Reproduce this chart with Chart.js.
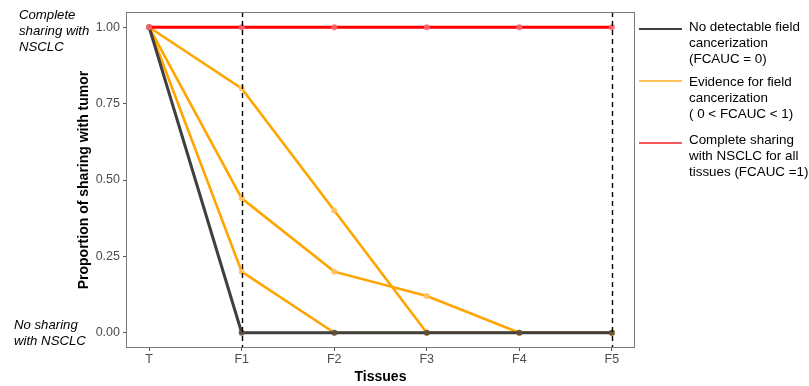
<!DOCTYPE html>
<html>
<head>
<meta charset="utf-8">
<script src="https://cdn.jsdelivr.net/npm/chart.js@4/dist/chart.umd.min.js"></script>
<style>
  html, body { margin: 0; padding: 0; background: #fff; }
  #wrap { position: relative; width: 809px; height: 386px; }
</style>
</head>
<body>
<div id="wrap"><canvas id="c" width="809" height="386"></canvas></div>
<script>
// ---- data ----
const tissues = ['T', 'F1', 'F2', 'F3', 'F4', 'F5'];
const completeSharing = [1, 1, 1, 1, 1, 1];
const noFieldCancerization = [1, 0, 0, 0, 0, 0];
const fieldEvidenceA = [1, 0.8, 0.4, 0, 0, 0];
const fieldEvidenceB = [1, 0.44, 0.2, 0.12, 0, 0];
const fieldEvidenceC = [1, 0.2, 0, 0, 0, 0];
const yTickValues = [0, 0.25, 0.5, 0.75, 1];
const yTickLabels = ['0.00', '0.25', '0.50', '0.75', '1.00'];
const dashedTissues = ['F1', 'F5'];
const legendGroups = [
  ['No detectable field', 'cancerization', '(FCAUC = 0)'],
  ['Evidence for field', 'cancerization', '( 0 < FCAUC < 1)'],
  ['Complete sharing', 'with NSCLC for all', 'tissues (FCAUC =1)']
];
const topAnnotation = ['Complete', 'sharing with', 'NSCLC'];
const bottomAnnotation = ['No sharing', 'with NSCLC'];
const xTitle = 'Tissues';
const yTitle = 'Proportion of sharing with tumor';

// ---- styles ----
const RED = '#FF0000', ORANGE = '#FFA500', DARK = '#3f3f3f';
const FONT = '"Liberation Sans", Arial, Helvetica, sans-serif';

function pts(arr) { return arr.map((v, i) => ({ x: i, y: v })); }
function ds(arr, color, pcolor, w) {
  return {
    data: pts(arr), borderColor: color, borderWidth: w,
    pointRadius: 3, pointBackgroundColor: pcolor, pointBorderWidth: 0,
    pointHoverRadius: 3, tension: 0, fill: false
  };
}

const extras = {
  id: 'extras',
  beforeDatasetsDraw(chart) {
    const { ctx, chartArea: a } = chart;
    ctx.save();
    ctx.fillStyle = '#fff';
    ctx.fillRect(a.left, a.top, a.right - a.left, a.bottom - a.top);
    ctx.restore();
  },
  afterDatasetsDraw(chart) {
    const { ctx, chartArea: a, scales } = chart;
    ctx.save();
    // dashed verticals
    ctx.strokeStyle = '#000';
    ctx.lineWidth = 1.4;
    ctx.setLineDash([5, 4]);
    dashedTissues.forEach(t => {
      const x = Math.round(scales.x.getPixelForValue(tissues.indexOf(t))) + 0.5;
      ctx.beginPath(); ctx.moveTo(x, a.top); ctx.lineTo(x, a.bottom); ctx.stroke();
    });
    ctx.setLineDash([]);
    // panel border
    ctx.strokeStyle = '#7a7a7a';
    ctx.lineWidth = 1;
    ctx.strokeRect(Math.round(a.left) + 0.5, Math.round(a.top) + 0.5,
      Math.round(a.right - a.left) - 1, Math.round(a.bottom - a.top) - 1);
    // axis titles
    ctx.fillStyle = '#000';
    ctx.font = 'bold 14px ' + FONT;
    ctx.textAlign = 'center'; ctx.textBaseline = 'middle';
    ctx.fillText(xTitle, (a.left + a.right) / 2, 377);
    ctx.save();
    ctx.translate(84, (a.top + a.bottom) / 2);
    ctx.rotate(-Math.PI / 2);
    ctx.fillText(yTitle, 0, 0);
    ctx.restore();
    // side annotations
    ctx.font = 'italic 13.2px ' + FONT;
    ctx.textAlign = 'left';
    topAnnotation.forEach((s, i) => ctx.fillText(s, 19, 15 + i * 16.3));
    bottomAnnotation.forEach((s, i) => ctx.fillText(s, 14, 325 + i * 16.3));
    // legend
    const keyColors = ['#000000', '#FFB020', '#F02020'];
    const keyY = [29, 81, 143];
    const textY = [27, 82, 140];
    ctx.font = '13.4px ' + FONT;
    legendGroups.forEach((g, k) => {
      ctx.strokeStyle = keyColors[k]; ctx.lineWidth = 1.3;
      ctx.beginPath(); ctx.moveTo(639, keyY[k]); ctx.lineTo(682, keyY[k]); ctx.stroke();
      ctx.fillStyle = '#000';
      g.forEach((s, i) => ctx.fillText(s, 689, textY[k] + i * 16.4));
    });
    ctx.restore();
  }
};

new Chart(document.getElementById('c'), {
  type: 'line',
  data: {
    datasets: [
      ds(completeSharing, RED, 'rgba(255,100,115,0.9)', 2.8),
      ds(noFieldCancerization, DARK, 'rgba(95,80,60,0.9)', 3),
      ds(fieldEvidenceA, ORANGE, 'rgba(255,195,95,0.9)', 2.6),
      ds(fieldEvidenceB, ORANGE, 'rgba(255,195,95,0.9)', 2.6),
      ds(fieldEvidenceC, ORANGE, 'rgba(255,195,95,0.9)', 2.6)
    ]
  },
  options: {
    responsive: false,
    animation: false,
    events: [],
    layout: { padding: { left: 0, right: 174, top: 12, bottom: 0 } },
    plugins: { legend: { display: false }, tooltip: { enabled: false } },
    scales: {
      x: {
        type: 'linear', min: -0.25, max: 5.25,
        afterBuildTicks: s => { s.ticks = tissues.map((t, i) => ({ value: i })); },
        afterFit: s => { s.height = 38; },
        ticks: {
          callback: v => tissues[v], color: '#4d4d4d', padding: 1,
          font: { family: FONT, size: 12.5 }, maxRotation: 0, autoSkip: false
        },
        grid: { display: true, drawOnChartArea: false, drawTicks: true, tickLength: 3, color: '#555', lineWidth: 1 },
        border: { display: false }
      },
      y: {
        type: 'linear', min: -0.05, max: 1.05,
        afterBuildTicks: s => { s.ticks = yTickValues.map(v => ({ value: v })); },
        afterFit: s => { s.width = 126; },
        ticks: {
          callback: (v) => yTickLabels[yTickValues.indexOf(v)], color: '#4d4d4d', padding: 3,
          font: { family: FONT, size: 12.5 }, autoSkip: false
        },
        grid: { display: true, drawOnChartArea: false, drawTicks: true, tickLength: 3, color: '#555', lineWidth: 1 },
        border: { display: false }
      }
    }
  },
  plugins: [extras]
});
</script>
</body>
</html>
